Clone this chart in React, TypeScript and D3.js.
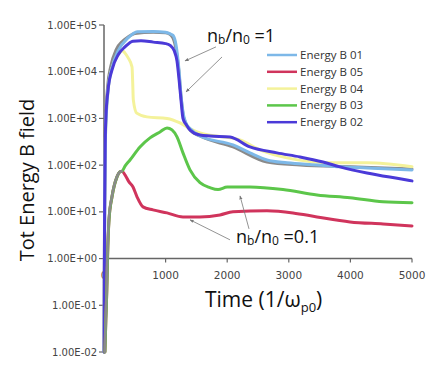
import React from "react";
import * as d3 from "d3";

// ---- data (time in 1/ω_p0, value = total energy of B field) ----
const xTicks = [0, 1000, 2000, 3000, 4000, 5000];
const yTicks = [1e-2, 1e-1, 1e0, 1e1, 1e2, 1e3, 1e4, 1e5];
const yTickLabels = ["1.00E-02", "1.00E-01", "1.00E+00", "1.00E+01", "1.00E+02", "1.00E+03", "1.00E+04", "1.00E+05"];

const grayHigh: [number, number][] = [
  [1, 0.01], [4, 0.3], [9, 10], [18, 300], [28, 1000], [60, 5000], [110, 1.3e4], [200, 3.0e4], [300, 4.5e4],
  [390, 5.5e4], [500, 6.6e4], [800, 7.0e4], [1000, 6.8e4], [1080, 6.2e4], [1150, 4.0e4], [1210, 1.2e4],
  [1250, 3000], [1290, 1100], [1400, 560], [1558, 420], [2094, 245], [2646, 117], [3182, 101], [4000, 92], [5000, 83],
];
const energyB01: [number, number][] = [
  [3, 0.01], [6, 0.3], [12, 10], [22, 300], [35, 1000], [70, 4500], [130, 1.2e4], [230, 2.8e4], [390, 5.3e4],
  [471, 6.5e4], [540, 7.2e4], [800, 7.3e4], [1000, 7.0e4], [1070, 6.5e4], [1120, 6.0e4], [1170, 3.7e4],
  [1220, 1.0e4], [1250, 3100], [1290, 1200], [1330, 800], [1400, 600], [1558, 420], [2094, 271], [2370, 183],
  [2646, 129], [2971, 112], [3458, 101], [3831, 92], [4269, 87], [5000, 79],
];
const energyB04: [number, number][] = [
  [3, 0.01], [6, 0.3], [12, 10], [22, 300], [35, 1000], [70, 4500], [130, 1.2e4], [230, 2.3e4], [300, 2.8e4],
  [341, 2.5e4], [390, 2.0e4], [455, 1.26e4], [466, 5800], [476, 2500], [531, 1300], [698, 1080], [1023, 1000],
  [1234, 800], [1400, 600], [1558, 490], [2208, 347], [2532, 212], [2971, 143], [3718, 112], [4269, 112], [5000, 92],
];
const energyB02: [number, number][] = [
  [2, 0.01], [5, 0.3], [10, 10], [20, 300], [30, 1000], [65, 4000], [130, 1.1e4], [230, 2.3e4], [340, 3.4e4],
  [470, 4.5e4], [600, 4.6e4], [800, 4.3e4], [1000, 4.0e4], [1080, 3.6e4], [1140, 2.8e4], [1185, 1.7e4],
  [1220, 6500], [1250, 2500], [1282, 1000], [1330, 750], [1400, 560], [1558, 440], [1721, 420], [2045, 400],
  [2370, 245], [2808, 183], [3182, 150], [3555, 117], [3831, 92], [4269, 68], [4805, 51], [5000, 46],
];
const energyB05: [number, number][] = [
  [15, 0.01], [30, 0.05], [45, 0.2], [57, 1], [81, 6.7], [130, 21], [211, 56], [260, 72], [292, 74],
  [341, 62], [400, 45], [471, 34], [536, 21], [633, 12.8], [795, 11], [1023, 9.5], [1282, 7.8], [1558, 7.8],
  [1883, 8.6], [2094, 10], [2646, 10.5], [3068, 9.5], [3458, 7.8], [3994, 6.1], [4529, 5.5], [5000, 5.0],
];
const energyB03: [number, number][] = [
  [15, 0.01], [30, 0.05], [45, 0.2], [57, 1], [81, 6.7], [130, 21], [211, 56], [260, 72], [292, 74],
  [341, 95], [422, 129], [584, 245], [747, 383], [909, 514], [1023, 627], [1104, 568], [1185, 402], [1282, 183],
  [1396, 79], [1558, 42], [1721, 33], [1851, 30], [2000, 34], [2370, 34], [2906, 30], [3458, 23], [3994, 20],
  [4529, 16.4], [5000, 15.6],
];
const grayLow: [number, number][] = [
  [13, 0.01], [28, 0.05], [43, 0.2], [55, 1], [79, 6.7], [128, 21], [209, 56], [258, 72], [290, 74],
];

const legendNames = ["Energy B 01", "Energy B 05", "Energy B 04", "Energy B 03", "Energy B 02"];
const legendColors = ["#7db8e8", "#d0345c", "#f4f29a", "#5cc64a", "#4b3ad8"];

// annotation arrows: [tFrom, vFrom, tTo, vTo]
const arrows: [number, number, number, number][] = [
  [1818, 3.4e4, 1315, 1.7e4],
  [1916, 2.07e4, 1331, 3690],
  [2045, 2.52, 1396, 6.75],
  [2354, 4.32, 2208, 22],
];

export default function App() {
  const W = 436, H = 377;
  const x = d3.scaleLinear().domain([0, 5000]).range([104, 412]);
  const y = d3.scaleLog().domain([1e-2, 1e5]).range([352, 25]);
  const line = d3.line<[number, number]>().x(d => x(d[0])).y(d => y(d[1])).curve(d3.curveMonotoneX);
  const axisY0 = y(1);
  const series: { d: [number, number][]; c: string; w: number }[] = [
    { d: grayHigh, c: "#8a8a8a", w: 3 },
    { d: energyB04, c: legendColors[2], w: 3 },
    { d: energyB01, c: legendColors[0], w: 3 },
    { d: energyB02, c: legendColors[4], w: 3 },
    { d: energyB05, c: legendColors[1], w: 3 },
    { d: energyB03, c: legendColors[3], w: 3 },
    { d: grayLow, c: "#8a8a8a", w: 2.5 },
  ];
  const tickFont = "'DejaVu Sans', Verdana, sans-serif";
  const titleFont = "'Open Sans', 'Noto Sans', sans-serif";
  return (
    <svg width={W} height={H} style={{ position: "absolute", left: 0, top: 0, background: "#fff" }}>
      <defs>
        <marker id="ah" viewBox="0 0 10 10" refX="9" refY="5" markerWidth="5" markerHeight="5" orient="auto">
          <path d="M0,1 L10,5 L0,9 z" fill="#777" />
        </marker>
      </defs>
      {/* axes */}
      <line x1={x(0)} x2={x(0)} y1={y(1e5)} y2={y(1e-2)} stroke="#666" strokeWidth={1.5} />
      {yTicks.map((t, i) => (
        <g key={"yt" + i}>
          <line x1={x(0) - 5} x2={x(0)} y1={y(t)} y2={y(t)} stroke="#666" strokeWidth={1.2} />
          <text x={97} y={y(t)} dy="0.35em" textAnchor="end" fontFamily={tickFont} fontSize={10} fill="#444">
            {yTickLabels[i]}
          </text>
        </g>
      ))}
      <line x1={x(0)} x2={x(5000)} y1={axisY0} y2={axisY0} stroke="#666" strokeWidth={1.5} />
      {xTicks.map((t, i) => (
        <g key={"xt" + i}>
          <line x1={x(t)} x2={x(t)} y1={axisY0} y2={axisY0 + 4} stroke="#666" strokeWidth={1.2} />
          <text x={x(t)} y={279} textAnchor="middle" fontFamily={tickFont} fontSize={10.5} fill="#444">
            {t}
          </text>
        </g>
      ))}
      {/* series */}
      {series.map((s, i) => (
        <path key={"s" + i} d={line(s.d) || ""} fill="none" stroke={s.c} strokeWidth={s.w}
          strokeLinejoin="round" strokeLinecap="round" />
      ))}
      {/* arrows */}
      {arrows.map((a, i) => (
        <line key={"a" + i} x1={x(a[0])} y1={y(a[1])} x2={x(a[2])} y2={y(a[3])} stroke="#777" strokeWidth={0.8}
          markerEnd="url(#ah)" />
      ))}
      {/* annotations */}
      <text x={x(1672)} y={y(4.33e4)} fontFamily={titleFont} fontSize={18} fill="#111">
        n<tspan fontSize={12} dy={2}>b</tspan><tspan dy={-2}>/n</tspan><tspan fontSize={12} dy={2}>0</tspan>
        <tspan dy={-2}> =1</tspan>
      </text>
      <text x={x(2143)} y={y(2.17)} fontFamily={titleFont} fontSize={18} fill="#111">
        n<tspan fontSize={12} dy={2}>b</tspan><tspan dy={-2}>/n</tspan><tspan fontSize={12} dy={2}>0</tspan>
        <tspan dy={-2}> =0.1</tspan>
      </text>
      {/* legend */}
      {legendNames.map((n, i) => (
        <g key={"lg" + i} transform={`translate(267,${55 + i * 16.8})`}>
          <line x1={0} x2={30} y1={0} y2={0} stroke={legendColors[i]} strokeWidth={2.5} />
          <text x={33} y={0} dy="0.35em" fontFamily={titleFont} fontSize={11.5} fill="#333">{n}</text>
        </g>
      ))}
      {/* axis titles */}
      <text transform="translate(34,180) rotate(-90)" textAnchor="middle" fontFamily={titleFont} fontSize={20} fill="#111">
        Tot Energy B field
      </text>
      <text x={205} y={307} fontFamily={titleFont} fontSize={21} fill="#111">
        Time (1/ω<tspan fontSize={13} dy={5}>p0</tspan><tspan dy={-5}>)</tspan>
      </text>
    </svg>
  );
}
